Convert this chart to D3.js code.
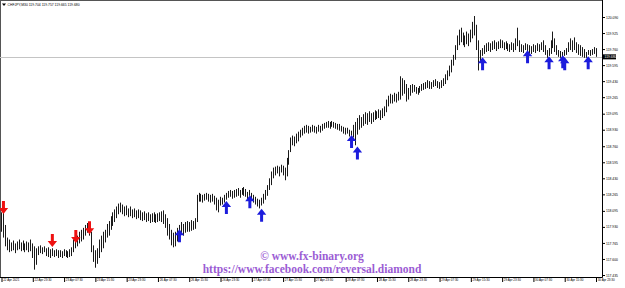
<!DOCTYPE html>
<html>
<head>
<meta charset="utf-8">
<script src="https://cdn.jsdelivr.net/npm/d3@7"></script>
<style>
  html, body { margin: 0; padding: 0; background: #fff; }
  svg { display: block; }
  .axis text { font-family: "Liberation Sans", Arial, sans-serif; fill: #000; }
  .axis line { stroke: #000; }
</style>
</head>
<body>
<div class="chart"></div>
<script>
// header info
const symbol = "CHFJPY,M30";
const headerPrices = [119.704, 119.757, 119.665, 119.680];
const lastPrice = 119.680;

// bar highs / lows (M30 bars)
const highs = [
  118.08,118.12,117.95,117.82,117.80,117.77,117.79,117.76,117.78,117.80,
  117.77,117.79,117.76,117.78,117.77,117.80,117.76,117.73,117.71,117.73,
  117.74,117.72,117.73,117.71,117.72,117.70,117.71,117.69,117.70,117.69,
  117.69,117.68,117.70,117.69,117.68,117.70,117.72,117.80,117.82,117.84,
  117.88,117.90,117.92,117.95,117.97,117.94,117.88,117.74,117.69,117.71,
  117.80,117.84,117.88,117.90,117.96,117.99,118.04,118.08,118.11,118.14,
  118.17,118.18,118.16,118.14,118.15,118.12,118.14,118.11,118.12,118.10,
  118.11,118.10,118.08,118.09,118.07,118.08,118.06,118.07,118.08,118.06,
  118.07,118.08,118.09,118.10,118.06,118.02,117.96,117.90,117.87,117.88,
  117.92,117.95,117.98,117.96,117.98,117.99,117.98,118.00,117.99,118.02,
  118.26,118.28,118.27,118.26,118.27,118.28,118.27,118.26,118.27,118.25,
  118.23,118.21,118.24,118.23,118.26,118.28,118.30,118.31,118.30,118.31,
  118.32,118.33,118.31,118.33,118.34,118.32,118.29,118.31,118.28,118.26,
  118.24,118.22,118.21,118.23,118.27,118.31,118.36,118.43,118.50,118.54,
  118.55,118.56,118.55,118.57,118.56,118.54,118.64,118.72,118.85,118.87,
  118.86,118.89,118.91,118.93,118.95,118.97,118.98,118.97,118.96,118.98,
  118.97,118.96,118.98,118.97,118.99,119.00,119.01,119.02,119.01,119.02,
  119.01,119.00,118.99,118.99,118.97,118.96,118.95,118.95,118.93,118.92,
  118.98,119.01,119.05,119.08,119.06,119.09,119.11,119.10,119.12,119.10,
  119.11,119.13,119.12,119.14,119.13,119.15,119.17,119.24,119.28,119.30,
  119.29,119.31,119.30,119.32,119.48,119.46,119.44,119.40,119.36,119.39,
  119.40,119.39,119.37,119.36,119.38,119.40,119.41,119.42,119.44,119.43,
  119.42,119.44,119.45,119.43,119.42,119.44,119.46,119.50,119.54,119.59,
  119.65,119.70,119.80,119.90,119.96,119.98,119.93,119.90,119.94,119.92,
  119.96,120.04,120.10,120.01,119.85,119.75,119.77,119.80,119.82,119.83,
  119.82,119.84,119.85,119.83,119.84,119.86,119.85,119.83,119.84,119.82,
  119.81,119.83,119.82,119.87,119.98,119.85,119.81,119.80,119.82,119.81,
  119.80,119.79,119.81,119.80,119.82,119.81,119.83,119.85,119.80,119.75,
  119.77,119.85,119.94,119.87,119.80,119.75,119.74,119.73,119.75,119.77,
  119.83,119.87,119.85,119.88,119.83,119.81,119.80,119.78,119.76,119.73,
  119.75,119.75,119.76,119.78,119.77
];
const lows = [
  117.88,117.82,117.73,117.69,117.67,117.68,117.69,117.66,117.69,117.70,
  117.68,117.69,117.67,117.69,117.67,117.68,117.61,117.49,117.54,117.64,
  117.66,117.65,117.67,117.63,117.62,117.61,117.63,117.62,117.63,117.61,
  117.62,117.61,117.63,117.62,117.61,117.62,117.63,117.67,117.71,117.73,
  117.76,117.78,117.80,117.84,117.87,117.84,117.67,117.57,117.51,117.55,
  117.61,117.67,117.71,117.77,117.82,117.84,117.90,117.94,117.98,118.02,
  118.06,118.08,118.06,118.04,118.05,118.03,118.04,118.02,118.03,118.01,
  118.02,118.00,117.99,118.00,117.98,117.99,117.97,117.98,117.98,117.97,
  117.98,117.99,117.98,117.96,117.92,117.84,117.80,117.74,117.72,117.73,
  117.78,117.82,117.86,117.84,117.87,117.88,117.88,117.89,117.90,117.91,
  117.98,118.19,118.19,118.18,118.20,118.21,118.19,118.18,118.19,118.16,
  118.10,118.08,118.15,118.16,118.18,118.21,118.23,118.24,118.22,118.23,
  118.24,118.25,118.23,118.26,118.25,118.24,118.20,118.25,118.21,118.18,
  118.16,118.14,118.12,118.15,118.17,118.21,118.25,118.31,118.36,118.43,
  118.46,118.48,118.45,118.49,118.46,118.41,118.45,118.57,118.70,118.77,
  118.76,118.79,118.81,118.85,118.87,118.89,118.90,118.89,118.90,118.91,
  118.90,118.89,118.91,118.90,118.92,118.94,118.95,118.95,118.94,118.96,
  118.95,118.94,118.93,118.92,118.91,118.89,118.88,118.89,118.86,118.87,
  118.85,118.77,118.88,118.93,118.95,118.97,118.99,118.98,119.01,118.99,
  119.01,119.03,119.04,119.05,119.03,119.05,119.07,119.11,119.17,119.20,
  119.20,119.22,119.21,119.23,119.24,119.28,119.30,119.22,119.24,119.28,
  119.31,119.32,119.30,119.29,119.31,119.33,119.34,119.35,119.36,119.35,
  119.35,119.37,119.38,119.36,119.35,119.36,119.38,119.40,119.44,119.48,
  119.52,119.59,119.65,119.75,119.80,119.83,119.80,119.78,119.81,119.79,
  119.83,119.87,119.90,119.75,119.54,119.63,119.69,119.71,119.73,119.74,
  119.73,119.75,119.76,119.74,119.76,119.77,119.77,119.75,119.76,119.74,
  119.73,119.75,119.73,119.75,119.79,119.73,119.73,119.72,119.75,119.74,
  119.72,119.71,119.73,119.72,119.74,119.73,119.75,119.73,119.70,119.67,
  119.69,119.71,119.77,119.73,119.70,119.68,119.67,119.67,119.69,119.70,
  119.73,119.75,119.73,119.75,119.72,119.70,119.69,119.68,119.67,119.67,
  119.70,119.69,119.70,119.71,119.68
];

// signal arrows (bar index, price of arrow centre)
const sellIdx = [1, 26, 38, 45];
const sellPrice = [118.13, 117.79, 117.83, 117.92];
const buyIdx = [91, 115, 127, 133, 179, 182, 246, 269, 280, 287, 288, 300];
const buyPrice = [117.84, 118.13, 118.19, 118.05, 118.81, 118.69, 119.61, 119.68, 119.62, 119.63, 119.61, 119.62];

// axis labels
const timeLabels = ["22 Apr 2021","22 Apr 23:30","23 Apr 07:30","23 Apr 15:30","23 Apr 23:30",
  "26 Apr 07:30","26 Apr 15:30","26 Apr 23:30","27 Apr 07:30","27 Apr 15:30","27 Apr 23:30",
  "28 Apr 07:30","28 Apr 15:30","28 Apr 23:30","29 Apr 07:30","29 Apr 15:30","29 Apr 23:30",
  "30 Apr 07:30","30 Apr 15:30","30 Apr 23:30"];
const priceTicks = [120.090,119.925,119.760,119.595,119.430,119.265,119.095,118.930,118.760,
  118.595,118.430,118.265,118.095,117.930,117.765,117.600,117.435];

const width = 625, height = 288;
const axisX = 602, axisY = 277;

const svg = d3.select('.chart')
  .append('svg')
  .attr('width', width)
  .attr('height', height);

// scales
const xScale = d3.scaleLinear()
  .domain([0, highs.length - 1])
  .range([1.5, 596]);
const yScale = d3.scaleLinear()
  .domain([117.435, 120.090])
  .range([275, 17]);

// frame
svg.append('line').attr('x1', 0.5).attr('x2', 0.5).attr('y1', 0).attr('y2', axisY)
  .attr('stroke', '#555');
svg.append('line').attr('x1', 0).attr('x2', axisX).attr('y1', 0.5).attr('y2', 0.5)
  .attr('stroke', '#555');

// current price line
svg.append('line')
  .attr('x1', 0).attr('x2', axisX)
  .attr('y1', Math.round(yScale(lastPrice)) + 0.5)
  .attr('y2', Math.round(yScale(lastPrice)) + 0.5)
  .attr('stroke', '#c4c4c4');

// bars
svg.append('g')
  .selectAll('line')
  .data(highs)
  .enter()
  .append('line')
  .attr('x1', (d, i) => Math.floor(xScale(i)) + 0.5)
  .attr('x2', (d, i) => Math.floor(xScale(i)) + 0.5)
  .attr('y1', d => yScale(d))
  .attr('y2', (d, i) => yScale(lows[i]))
  .attr('stroke', '#1a1a1a')
  .attr('stroke-width', 1);

// arrows
const upArrow = "M0,-6.5L4.7,-0.5L1.5,-0.5L1.5,6.5L-1.5,6.5L-1.5,-0.5L-4.7,-0.5Z";
const downArrow = "M0,6.5L4.7,0.5L1.5,0.5L1.5,-6.5L-1.5,-6.5L-1.5,0.5L-4.7,0.5Z";

svg.append('g')
  .selectAll('path')
  .data(sellIdx)
  .enter()
  .append('path')
  .attr('d', downArrow)
  .attr('fill', '#ee1111')
  .attr('transform', (d, i) => `translate(${xScale(d)},${yScale(sellPrice[i])})`);

svg.append('g')
  .selectAll('path')
  .data(buyIdx)
  .enter()
  .append('path')
  .attr('d', upArrow)
  .attr('fill', '#1c1cdc')
  .attr('transform', (d, i) => `translate(${xScale(d)},${yScale(buyPrice[i])})`);

// right price axis
const yAxis = d3.axisRight(yScale)
  .tickValues(priceTicks)
  .tickFormat(d3.format('.3f'))
  .tickSize(3)
  .tickPadding(1);
const yAxisG = svg.append('g')
  .attr('class', 'axis')
  .attr('transform', `translate(${axisX},0)`)
  .call(yAxis);
yAxisG.select('.domain').remove();
yAxisG.selectAll('text').style('font-size', '3.4px');

// bottom time axis
const xAxis = d3.axisBottom(xScale)
  .tickValues(d3.range(0, highs.length, 16))
  .tickFormat((d, i) => timeLabels[i])
  .tickSize(5);
const xAxisG = svg.append('g')
  .attr('class', 'axis')
  .attr('transform', `translate(0,${axisY})`)
  .call(xAxis);
xAxisG.select('.domain').remove();
xAxisG.selectAll('text')
  .style('font-size', '3px')
  .attr('text-anchor', 'start')
  .attr('x', 1.2)
  .attr('y', 2)
  .attr('dy', '0.8em');

// axis lines
svg.append('line').attr('x1', axisX + 0.5).attr('x2', axisX + 0.5).attr('y1', 0).attr('y2', axisY + 0.5)
  .attr('stroke', '#000');
svg.append('line').attr('x1', 0).attr('x2', axisX + 0.5).attr('y1', axisY + 0.5).attr('y2', axisY + 0.5)
  .attr('stroke', '#000');

// last price tag
const tagY = yScale(lastPrice);
svg.append('rect')
  .attr('x', axisX + 1).attr('y', tagY - 2.5)
  .attr('width', 13).attr('height', 5)
  .attr('fill', '#000');
svg.append('text')
  .attr('x', axisX + 2.5).attr('y', tagY)
  .attr('dy', '0.35em')
  .attr('fill', '#fff')
  .style('font-family', '"Liberation Sans", Arial, sans-serif')
  .style('font-size', '3.4px')
  .text(d3.format('.3f')(lastPrice));

// header
svg.append('path')
  .attr('d', 'M2,3.5L6,3.5L4,6Z')
  .attr('fill', '#000');
svg.append('text')
  .attr('x', 7.5).attr('y', 6.3)
  .style('font-family', '"Liberation Sans", Arial, sans-serif')
  .style('font-size', '3.4px')
  .attr('fill', '#000')
  .text(symbol + '  ' + headerPrices.map(d3.format('.3f')).join(' '));

// watermark
const wm = svg.append('g')
  .attr('fill', '#9b5cd4')
  .attr('text-anchor', 'middle')
  .style('font-family', '"Liberation Serif", "DejaVu Serif", serif')
  .style('font-weight', 'bold')
  .style('font-size', '11.5px');
wm.append('text').attr('x', 312).attr('y', 260).text('\u00a9 www.fx-binary.org');
wm.append('text').attr('x', 312).attr('y', 273).text('https://www.facebook.com/reversal.diamond');
</script>
</body>
</html>
